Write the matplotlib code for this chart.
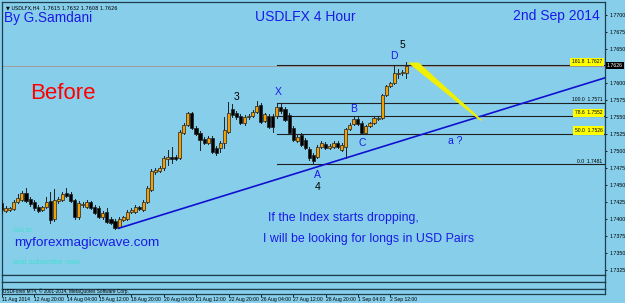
import numpy as np
import matplotlib
matplotlib.use("Agg")
import matplotlib.pyplot as plt
from matplotlib.patches import Rectangle, Polygon

plt.rcParams['font.family'] = ['Liberation Sans', 'DejaVu Sans']

# 4 hour candles of USDLFX, 11 Aug - 3 Sep 2014
opens = [1.7424, 1.7412, 1.7414, 1.7415, 1.7426, 1.7429, 1.7439, 1.7430, 1.7426, 1.7418,
         1.7414, 1.7418, 1.7427, 1.7401, 1.7427, 1.7429, 1.7439, 1.7437, 1.7429, 1.7404,
         1.7421, 1.7418, 1.7426, 1.7418, 1.7417, 1.7404, 1.7411, 1.7401, 1.7398, 1.7389,
         1.7399, 1.7401, 1.7411, 1.7411, 1.7418, 1.7414, 1.7426, 1.7443, 1.7470, 1.7471,
         1.7476, 1.7489, 1.7492, 1.7492, 1.7490, 1.7527, 1.7539, 1.7556, 1.7534, 1.7527,
         1.7518, 1.7512, 1.7520, 1.7505, 1.7505, 1.7512, 1.7528, 1.7562, 1.7556, 1.7552,
         1.7542, 1.7551, 1.7552, 1.7558, 1.7568, 1.7545, 1.7552, 1.7552, 1.7552, 1.7565,
         1.7562, 1.7553, 1.7534, 1.7515, 1.7524, 1.7517, 1.7504, 1.7495, 1.7492, 1.7506,
         1.7511, 1.7505, 1.7506, 1.7512, 1.7502, 1.7506, 1.7533, 1.7540, 1.7548, 1.7542,
         1.7527, 1.7537, 1.7542, 1.7548, 1.7549, 1.7583, 1.7596, 1.7600, 1.7614, 1.7615,
         1.7615]
highs = [1.7429, 1.7420, 1.7418, 1.7429, 1.7437, 1.7442, 1.7446, 1.7433, 1.7429, 1.7421,
         1.7420, 1.7433, 1.7440, 1.7445, 1.7433, 1.7440, 1.7446, 1.7440, 1.7430, 1.7427,
         1.7426, 1.7429, 1.7427, 1.7421, 1.7420, 1.7412, 1.7417, 1.7404, 1.7401, 1.7404,
         1.7405, 1.7414, 1.7417, 1.7421, 1.7420, 1.7429, 1.7449, 1.7474, 1.7476, 1.7479,
         1.7493, 1.7502, 1.7506, 1.7495, 1.7531, 1.7542, 1.7558, 1.7558, 1.7537, 1.7530,
         1.7521, 1.7523, 1.7523, 1.7508, 1.7515, 1.7550, 1.7573, 1.7569, 1.7559, 1.7555,
         1.7553, 1.7555, 1.7561, 1.7574, 1.7571, 1.7557, 1.7555, 1.7555, 1.7570, 1.7570,
         1.7565, 1.7556, 1.7537, 1.7524, 1.7527, 1.7520, 1.7506, 1.7497, 1.7509, 1.7515,
         1.7514, 1.7511, 1.7515, 1.7515, 1.7512, 1.7535, 1.7542, 1.7550, 1.7551, 1.7545,
         1.7539, 1.7543, 1.7551, 1.7551, 1.7585, 1.7598, 1.7602, 1.7627, 1.7621, 1.7620,
         1.7632]
lows = [1.7410, 1.7411, 1.7412, 1.7414, 1.7424, 1.7427, 1.7426, 1.7420, 1.7414, 1.7411,
        1.7412, 1.7417, 1.7395, 1.7398, 1.7424, 1.7427, 1.7433, 1.7426, 1.7401, 1.7401,
        1.7418, 1.7417, 1.7415, 1.7408, 1.7402, 1.7401, 1.7395, 1.7393, 1.7386, 1.7387,
        1.7398, 1.7399, 1.7409, 1.7409, 1.7414, 1.7412, 1.7424, 1.7442, 1.7467, 1.7470,
        1.7473, 1.7480, 1.7483, 1.7487, 1.7489, 1.7526, 1.7537, 1.7533, 1.7524, 1.7502,
        1.7511, 1.7511, 1.7498, 1.7495, 1.7499, 1.7505, 1.7527, 1.7550, 1.7548, 1.7540,
        1.7539, 1.7548, 1.7550, 1.7556, 1.7542, 1.7543, 1.7534, 1.7528, 1.7549, 1.7557,
        1.7544, 1.7525, 1.7515, 1.7514, 1.7508, 1.7503, 1.7488, 1.7481, 1.7490, 1.7505,
        1.7503, 1.7503, 1.7505, 1.7505, 1.7500, 1.7490, 1.7531, 1.7539, 1.7539, 1.7526,
        1.7526, 1.7536, 1.7540, 1.7546, 1.7548, 1.7582, 1.7595, 1.7599, 1.7608, 1.7612,
        1.7608]
closes = [1.7414, 1.7417, 1.7417, 1.7426, 1.7432, 1.7439, 1.7427, 1.7423, 1.7417, 1.7412,
          1.7418, 1.7426, 1.7399, 1.7429, 1.7430, 1.7437, 1.7434, 1.7427, 1.7404, 1.7424,
          1.7423, 1.7426, 1.7417, 1.7409, 1.7404, 1.7409, 1.7396, 1.7395, 1.7387, 1.7401,
          1.7404, 1.7411, 1.7414, 1.7418, 1.7415, 1.7426, 1.7446, 1.7471, 1.7473, 1.7476,
          1.7490, 1.7492, 1.7489, 1.7489, 1.7528, 1.7539, 1.7556, 1.7534, 1.7526, 1.7517,
          1.7512, 1.7520, 1.7499, 1.7498, 1.7512, 1.7531, 1.7556, 1.7553, 1.7550, 1.7542,
          1.7550, 1.7552, 1.7558, 1.7567, 1.7543, 1.7555, 1.7536, 1.7536, 1.7565, 1.7559,
          1.7546, 1.7527, 1.7517, 1.7521, 1.7509, 1.7505, 1.7490, 1.7486, 1.7506, 1.7512,
          1.7505, 1.7508, 1.7512, 1.7506, 1.7509, 1.7533, 1.7539, 1.7548, 1.7540, 1.7527,
          1.7537, 1.7542, 1.7549, 1.7549, 1.7583, 1.7596, 1.7600, 1.7615, 1.7615, 1.7617,
          1.7626]

time_labels = ["11 Aug 2014", "12 Aug 20:00", "14 Aug 04:00", "15 Aug 12:00", "18 Aug 20:00",
               "20 Aug 04:00", "21 Aug 12:00", "22 Aug 20:00", "26 Aug 04:00", "27 Aug 12:00",
               "28 Aug 20:00", "1 Sep 04:00", "2 Sep 12:00"]
# 1.7625 is hidden under the current price box
price_ticks = [1.7325, 1.7350, 1.7375, 1.7400, 1.7425, 1.7450, 1.7475, 1.7500,
               1.7525, 1.7550, 1.7575, 1.7600, 1.7650, 1.7675, 1.7700]

# fibonacci from A (0.0) to X (100.0)
fib_start_bar = 68
fib_0 = 1.7481
fib_100 = 1.7571
fib_levels = [0.0, 50.0, 78.6, 100.0, 161.8]
fib_marked = [50.0, 78.6, 161.8]

trend_x = [28.9, 149.0]
trend_y = [1.7387, 1.7608]
arrow_x = [100.6, 103.0, 118.6, 118.2]
arrow_y = [1.7630, 1.7630, 1.7546, 1.7546]
last_price = 1.7626

wave_labels = [("3", 58.0, 1.7580, "black"), ("X", 68.2, 1.7587, "#1a1ae6"),
               ("B", 87.0, 1.7562, "#1a1ae6"), ("C", 89.0, 1.7512, "#1a1ae6"),
               ("A", 78.0, 1.7466, "#1a1ae6"), ("4", 78.0, 1.7448, "black"),
               ("D", 97.0, 1.7640, "#1a1ae6"), ("5", 99.0, 1.7657, "black"),
               ("a ?", 112.0, 1.7516, "#1a1ae6")]

bg = "#87ceeb"
blue = "#1a1ae6"
W, H = 625, 303

fig = plt.figure(figsize=(W / 100, H / 100), dpi=100, facecolor=bg)

def fr(x0, y0, x1, y1):
    return [x0 / W, 1 - y1 / H, (x1 - x0) / W, (y1 - y0) / H]

ax = fig.add_axes(fr(2, 2, 604.5, 275))
ax.set_facecolor(bg)
ax.set_xlim(0.07, 148.95)
ax.set_ylim(1.73183, 1.77196)
for s in ax.spines.values():
    s.set_color("#1f3f4f")
    s.set_linewidth(0.9)

# candles
for i in range(len(opens)):
    o, h, l, c = opens[i], highs[i], lows[i], closes[i]
    ax.plot([i, i], [l, h], color="#202020", lw=0.7, zorder=3)
    lo, hi = min(o, c), max(o, c)
    if c >= o:
        fc = "#f5a000"
    else:
        fc = "black"
    ax.add_patch(Rectangle((i - 0.38, lo), 0.76, max(hi - lo, 0.00004),
                           facecolor=fc, edgecolor="#202020", lw=0.5, zorder=4))

# bid line
ax.axhline(last_price, color="#a0a0a0", lw=0.8, zorder=1)

# fibo lines
rng = fib_100 - fib_0
for lv in fib_levels:
    p = fib_0 + rng * lv / 100
    ax.plot([fib_start_bar, 149], [p, p], color="#202020", lw=0.8, zorder=2)
    t = ax.text(148.4, p + 0.00012, "%.1f  %.4f" % (lv, p), fontsize=3.6,
                ha="right", va="bottom", color="black", zorder=6)
    if lv in fib_marked:
        t.set_bbox(dict(facecolor="#ffff00", edgecolor="none", pad=1.2))

# trend line
ax.plot(trend_x, trend_y, color="#1010d0", lw=1.2, zorder=5)
ax.add_patch(Polygon(list(zip(arrow_x, arrow_y)), closed=True,
                     facecolor="#f0f000", edgecolor="#f0f000", lw=0.5, zorder=5))

for txt, x, y, col in wave_labels:
    ax.text(x, y, txt, color=col, fontsize=7.5, ha="center", va="center", zorder=6)

# right price axis
ax.yaxis.tick_right()
ax.set_yticks(price_ticks)
ax.set_yticklabels(["%.4f" % v for v in price_ticks])
ax.tick_params(axis="y", labelsize=3.8, length=1.5, pad=2, colors="black", width=0.6)
ax.tick_params(axis="x", bottom=False, labelbottom=False)
ax.text(1.0035, last_price, "%.4f" % last_price, transform=ax.get_yaxis_transform(),
        fontsize=3.8, color="white", ha="left", va="center",
        bbox=dict(facecolor="black", edgecolor="none", pad=0.8), zorder=7)

# texts
ax.text(0.006, 0.988, "\u25bc USDLFX,H4  1.7615 1.7632 1.7608 1.7626",
        transform=ax.transAxes, fontsize=3.6, ha="left", va="top",
        family=["DejaVu Sans"])
fig.text(4 / W, 1 - 18 / H, "By G.Samdani", color=blue, fontsize=9.8, ha="left", va="center")
fig.text(305 / W, 1 - 17 / H, "USDLFX 4 Hour", color=blue, fontsize=10, ha="center", va="center")
fig.text(600 / W, 1 - 16 / H, "2nd Sep 2014", color=blue, fontsize=10, ha="right", va="center")
fig.text(30 / W, 1 - 93 / H, "Before", color="#ff0000", fontsize=16, ha="left", va="center")
fig.text(268 / W, 1 - 218 / H, "If the Index starts dropping,", color=blue, fontsize=8.9,
         ha="left", va="center")
fig.text(263 / W, 1 - 239 / H, "I will be looking for longs in USD Pairs", color=blue,
         fontsize=8.9, ha="left", va="center")
fig.text(13 / W, 1 - 230 / H, "Go to", color="#40e0d0", fontsize=5.8, ha="left", va="center")
fig.text(14 / W, 1 - 243 / H, "myforexmagicwave.com", color=blue, fontsize=9.7,
         ha="left", va="center")
fig.text(13 / W, 1 - 262 / H, "and subscribe now", color="#40e0d0", fontsize=5.8,
         ha="left", va="center")

# empty indicator windows at the bottom
for y0, y1 in [(275, 281.5), (281.5, 288.5)]:
    sub = fig.add_axes(fr(2, y0, 604.5, y1))
    sub.set_facecolor(bg)
    sub.set_xticks([])
    sub.set_yticks([])
    for s in sub.spines.values():
        s.set_color("#1f3f4f")
        s.set_linewidth(0.9)

bot = fig.add_axes(fr(2, 288.5, 604.5, 294))
bot.set_facecolor(bg)
bot.set_xlim(0.07, 148.95)
bot.set_yticks([])
for s in bot.spines.values():
    s.set_color("#1f3f4f")
    s.set_linewidth(0.9)
bot.text(0.002, 0.5, "USDForex MT4, \u00a9 2001-2014, MetaQuotes Software Corp.",
         transform=bot.transAxes, fontsize=3.4, ha="left", va="center")
bot.set_xticks([8 * k for k in range(len(time_labels))])
bot.set_xticklabels(time_labels, ha="left")
bot.tick_params(axis="x", labelsize=3.6, length=2, pad=0.5, width=0.6)

fig.savefig("out.png", dpi=100, facecolor=bg)
